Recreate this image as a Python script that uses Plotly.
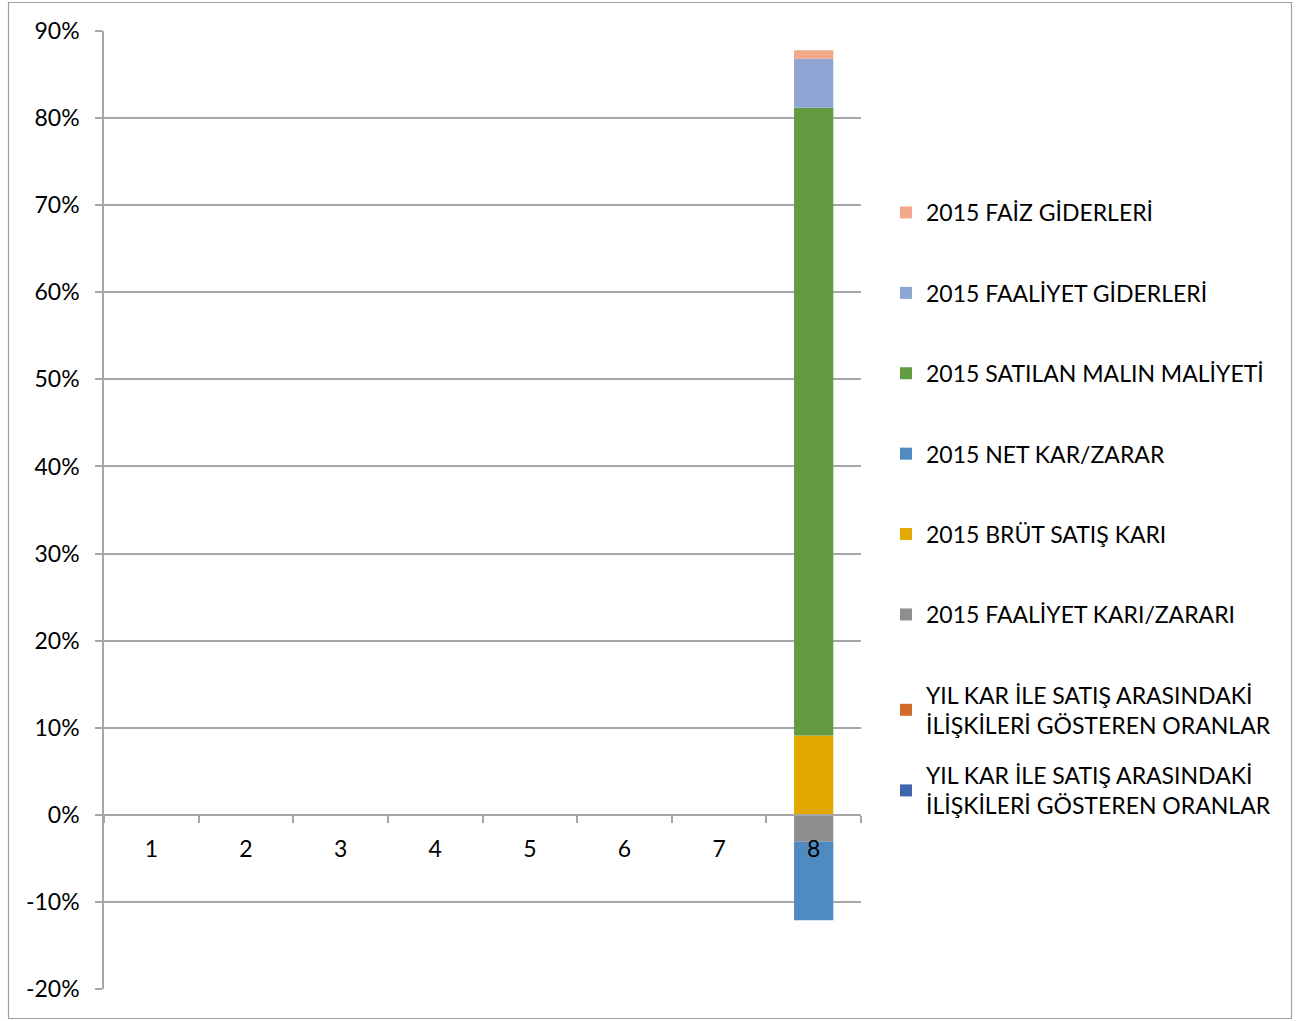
import plotly.graph_objects as go

categories = ["1", "2", "3", "4", "5", "6", "7", "8"]

series_names = [
    "YIL KAR İLE SATIŞ ARASINDAKİ<br>İLİŞKİLERİ GÖSTEREN ORANLAR",
    "YIL KAR İLE SATIŞ ARASINDAKİ<br>İLİŞKİLERİ GÖSTEREN ORANLAR",
    "2015 FAALİYET KARI/ZARARI",
    "2015 BRÜT SATIŞ KARI",
    "2015 NET KAR/ZARAR",
    "2015 SATILAN MALIN MALİYETİ",
    "2015 FAALİYET GİDERLERİ",
    "2015 FAİZ GİDERLERİ",
]

yil_kar_blue = [None, None, None, None, None, None, None, None]
yil_kar_orange = [None, None, None, None, None, None, None, None]
faaliyet_kari = [None, None, None, None, None, None, None, -0.031]
brut_satis_kari = [None, None, None, None, None, None, None, 0.091]
net_kar = [None, None, None, None, None, None, None, -0.090]
satilan_malin_maliyeti = [None, None, None, None, None, None, None, 0.721]
faaliyet_giderleri = [None, None, None, None, None, None, None, 0.056]
faiz_giderleri = [None, None, None, None, None, None, None, 0.010]

series_values = [yil_kar_blue, yil_kar_orange, faaliyet_kari, brut_satis_kari,
                 net_kar, satilan_malin_maliyeti, faaliyet_giderleri, faiz_giderleri]
series_colors = ["#3E67AE", "#D46B2A", "#8E8E8E", "#E2AA00",
                 "#4F8BC1", "#629B41", "#8FA5D6", "#F2A88B"]

y_tickvals = [-0.2, -0.1, 0, 0.1, 0.2, 0.3, 0.4, 0.5, 0.6, 0.7, 0.8, 0.9]
y_ticktext = ["-20%", "-10%", "0%", "10%", "20%", "30%", "40%", "50%", "60%", "70%", "80%", "90%"]

FONT = "Lato"
FS = 23
GRID = "#A6A6A6"

W, H = 1306, 1021
L, R, T, B = 104, 445, 31, 32
pw = W - L - R
ph = H - T - B


def px_x(x):
    return (x - L) / pw


def px_y(y):
    return (H - B - y) / ph


fig = go.Figure()
n = len(series_names)
for i, (name, vals, col) in enumerate(zip(series_names, series_values, series_colors)):
    fig.add_trace(go.Bar(
        x=categories, y=vals, name=name,
        marker=dict(color=col, line=dict(width=0)),
        legendgroup="g%d" % i,
        legendrank=(n - i) * 10,
        legend="legend2" if i == 0 else "legend",
    ))

fig.update_layout(
    width=W, height=H,
    margin=dict(l=L, r=R, t=T, b=B),
    paper_bgcolor="white", plot_bgcolor="white",
    barmode="relative", bargap=0.585,
    font=dict(family=FONT, size=FS, color="#000000"),
    showlegend=True,
    legend=dict(
        x=px_x(886), y=px_y(191), xanchor="left", yanchor="top",
        traceorder="grouped", tracegroupgap=47.5,
        font=dict(family=FONT, size=FS, color="#000000"),
        bgcolor="rgba(0,0,0,0)",
    ),
    legend2=dict(
        x=px_x(886), y=px_y(754), xanchor="left", yanchor="top",
        font=dict(family=FONT, size=FS, color="#000000"),
        bgcolor="rgba(0,0,0,0)",
    ),
    xaxis=dict(
        type="category", categoryorder="array", categoryarray=categories,
        anchor="free", position=0.2 / 1.1,
        showline=True, linecolor=GRID, linewidth=1.5,
        ticks="outside", tickson="boundaries", ticklen=7, tickcolor=GRID, tickwidth=1.5,
        showgrid=False, zeroline=False,
        ticklabelstandoff=14,
        tickfont=dict(family=FONT, size=FS, color="#000000"),
    ),
    yaxis=dict(
        range=[-0.2, 0.9], tickvals=y_tickvals, ticktext=y_ticktext,
        showgrid=True, gridcolor=GRID, gridwidth=1.5,
        showline=True, linecolor=GRID, linewidth=1.5,
        ticks="outside", ticklen=7, tickcolor=GRID, tickwidth=1.5,
        zeroline=False,
        ticklabelstandoff=11,
        tickfont=dict(family=FONT, size=FS, color="#000000"),
    ),
    shapes=[dict(
        type="rect", xref="paper", yref="paper",
        x0=px_x(8.5), x1=px_x(1291.5), y0=px_y(1018.5), y1=px_y(2.5),
        line=dict(color="#A0A0A0", width=1.2), fillcolor="rgba(0,0,0,0)",
        layer="below",
    )],
)

fig.write_html("out.html")
